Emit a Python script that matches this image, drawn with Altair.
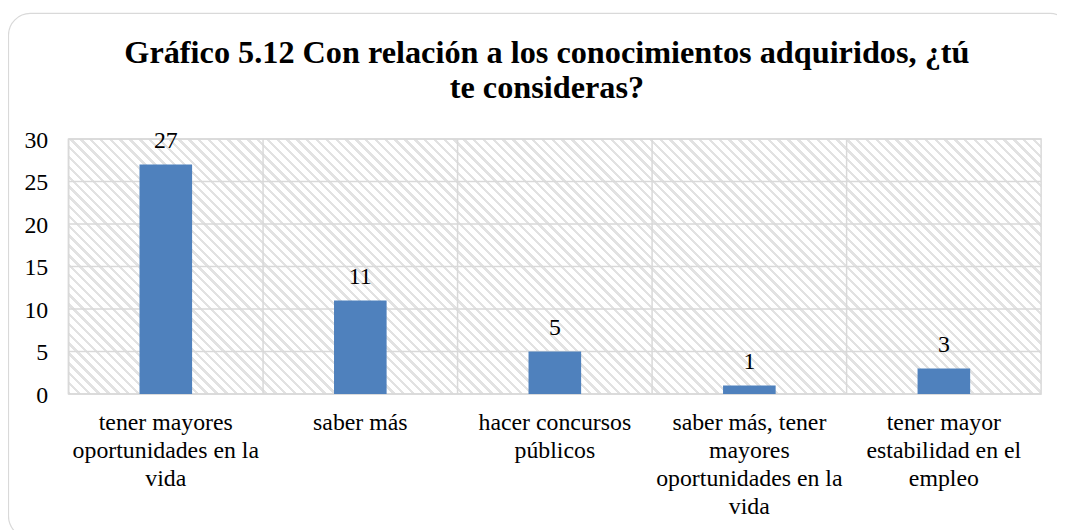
import altair as alt
import pandas as pd

# ---- data ----
categories = [
    "tener mayores\noportunidades en la\nvida",
    "saber más",
    "hacer concursos\npúblicos",
    "saber más, tener\nmayores\noportunidades en la\nvida",
    "tener mayor\nestabilidad en el\nempleo",
]
values = [27, 11, 5, 1, 3]
y_ticks = [0, 5, 10, 15, 20, 25, 30]
title_lines = ["Gráfico 5.12 Con relación a los conocimientos adquiridos, ¿tú", "te consideras?"]

W, H = 980, 257
FONT = "Liberation Serif"
BAR = "#4F81BD"
GRID = "#d9d9d9"

df = pd.DataFrame({"cat": categories, "val": values})
ticks_df = pd.DataFrame({"v": y_ticks})
one = pd.DataFrame({"k": [0]})

# diagonal hatch as a striped linear gradient (45deg "\" lines in pixel space)
s = (W + H) / (W ** 2 + H ** 2)
n_stripes = 125
duty = 0.35
HATCH = "#e2e2e2"
stops = []
for i in range(n_stripes):
    a = i / n_stripes
    b = (i + duty) / n_stripes
    c = (i + 1) / n_stripes
    stops += [
        {"offset": a, "color": HATCH},
        {"offset": b, "color": HATCH},
        {"offset": b, "color": "#ffffff"},
        {"offset": c, "color": "#ffffff"},
    ]
hatch = {"gradient": "linear", "x1": 0, "y1": 1, "x2": s * W, "y2": 1 - s * H, "stops": stops}

xscale = alt.Scale(paddingInner=0, paddingOuter=0)
yscale = alt.Scale(domain=[0, 30], nice=False)

border = alt.Chart(one).mark_rect(
    fill="transparent", stroke=GRID, strokeWidth=1.2, cornerRadius=22
).encode(
    x=alt.value(-60.5), x2=alt.value(1011), y=alt.value(-126.5), y2=alt.value(402)
)

bg = alt.Chart(one).mark_rect(fill=hatch, stroke=GRID, strokeWidth=1.5).encode(
    x=alt.value(0), x2=alt.value(W), y=alt.value(0), y2=alt.value(H)
)

hgrid = alt.Chart(ticks_df).mark_rule(color=GRID, strokeWidth=1.5).encode(
    y=alt.Y("v:Q", scale=yscale,
            axis=alt.Axis(values=y_ticks, grid=False, domain=False, ticks=False, tickSize=0,
                          labelFont=FONT, labelFontSize=24, labelColor="black",
                          labelPadding=21, title=None, labelOffset=1.5))
)

vgrid = alt.Chart(df).mark_rule(color=GRID, strokeWidth=1.5).encode(
    x=alt.X("cat:N", sort=categories, scale=xscale, bandPosition=0,
            axis=alt.Axis(title=None, domain=False, ticks=False, tickSize=0, grid=False,
                          labelAngle=0, labelFont=FONT, labelFontSize=24, labelColor="black",
                          labelLineHeight=28, labelBaseline="alphabetic", labelPadding=36,
                          labelLimit=0, labelExpr="split(datum.label, '\\n')"))
)

bars = alt.Chart(df).mark_bar(color=BAR, size=53).encode(
    x=alt.X("cat:N", sort=categories, scale=xscale),
    y=alt.Y("val:Q", scale=yscale),
)

labels = alt.Chart(df).mark_text(
    font=FONT, fontSize=24, color="black", baseline="alphabetic", dy=-17
).encode(
    x=alt.X("cat:N", sort=categories, scale=xscale),
    y=alt.Y("val:Q", scale=yscale),
    text=alt.Text("val:Q"),
)

title = alt.Chart(one).mark_text(
    text=title_lines, font=FONT, fontSize=32.5, fontWeight="bold", color="black",
    align="center", baseline="alphabetic", lineHeight=35
).encode(x=alt.value(482), y=alt.value(-76.3))

chart = alt.layer(border, bg, hgrid, vgrid, bars, labels, title).properties(
    width=W, height=H,
    autosize=alt.AutoSizeParams(type="none"),
    padding={"left": 61, "top": 130, "right": 16, "bottom": 135},
).configure_view(stroke=None).resolve_scale(x="shared", y="shared")

chart.save("out.html", embed_options={"renderer": "svg", "actions": False})
